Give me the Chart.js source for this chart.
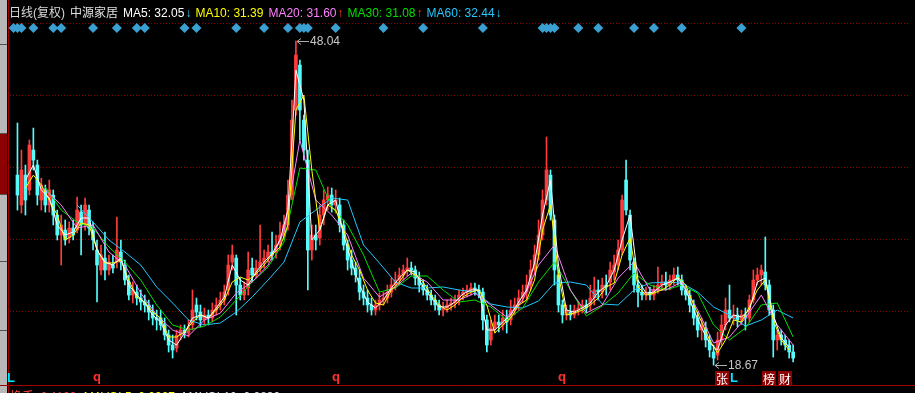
<!DOCTYPE html>
<html>
<head>
<meta charset="utf-8">
<script src="https://cdn.jsdelivr.net/npm/chart.js@4/dist/chart.umd.min.js"></script>
<style>
  html, body { margin: 0; padding: 0; background: #000; }
  #wrap { position: relative; width: 915px; height: 393px; overflow: hidden; background: #000;
          font-family: "Liberation Sans", "Noto Sans CJK SC", sans-serif; font-size: 12px; }
  #chart { position: absolute; left: 0; top: 0; }
  #head { position: absolute; left: 9px; top: 6px; white-space: nowrap; line-height: 14px; }
  #head span { margin-right: 5px; }
  #head .arr { margin-left: -4px; margin-right: 4px; }
  #foot { position: absolute; left: 10px; top: 390px; white-space: nowrap; line-height: 14px; }
  #foot span { margin-right: 4px; }
  .tab { position: absolute; left: 0; width: 7px; background: #b8b8b8; border-bottom: 1px solid #505050; }
</style>
</head>
<body>
<div id="wrap">
  <div class="tab" style="top:0;height:44px"></div>
  <div class="tab" style="top:45px;height:88px"></div>
  <div class="tab" style="top:134px;height:60px;background:#8c0000"></div>
  <div class="tab" style="top:195px;height:66px"></div>
  <div class="tab" style="top:262px;height:68px"></div>
  <div class="tab" style="top:331px;height:62px"></div>
  <canvas id="chart" width="915" height="393"></canvas>
  <div id="head"></div>
  <div id="foot"></div>
</div>
<script>
// daily candles (price), one per slot
const openP = [
  35.89, 33.18, 35.89, 34.54, 38.16, 36.80, 33.63, 34.54, 33.18, 34.08,
  32.27, 30.46, 30.91, 30.19, 31.09, 30.91, 32.54, 31.37, 32.72, 30.91,
  29.10, 27.29, 28.37, 27.29, 27.74, 28.01, 28.92, 27.74, 26.20, 25.02,
  25.29, 24.75, 24.39, 24.12, 23.48, 22.94, 22.94, 22.31, 21.40, 20.49,
  20.22, 21.40, 21.85, 21.58, 22.31, 24.12, 23.48, 22.76, 23.21, 22.94,
  23.66, 24.12, 24.57, 25.48, 28.01, 28.37, 25.93, 25.02, 25.66, 27.47,
  26.84, 27.47, 28.01, 28.37, 28.92, 28.92, 29.55, 30.46, 31.37, 34.08,
  41.78, 45.86, 40.88, 37.25, 29.10, 30.46, 30.19, 32.27, 33.63, 34.08,
  33.18, 33.18, 31.37, 29.55, 28.19, 27.47, 26.56, 25.29, 24.75, 24.12,
  23.66, 24.12, 24.57, 24.75, 25.29, 25.93, 26.38, 26.84, 27.29, 27.47,
  27.29, 26.56, 25.93, 25.48, 25.02, 24.57, 24.12, 23.66, 23.85, 24.12,
  24.30, 24.57, 25.02, 25.29, 25.48, 25.66, 25.48, 25.29, 22.76, 20.95,
  22.03, 22.58, 22.31, 22.94, 22.76, 23.66, 24.12, 24.75, 25.29, 25.93,
  27.29, 28.65, 30.46, 33.63, 35.89, 31.82, 26.84, 24.12, 23.21, 23.48,
  23.21, 23.66, 23.85, 24.12, 24.12, 24.75, 25.48, 25.29, 25.93, 26.20,
  27.11, 27.74, 29.10, 35.44, 32.27, 28.01, 25.93, 25.29, 25.02, 25.29,
  25.02, 25.48, 25.93, 26.20, 25.93, 26.38, 26.84, 26.38, 25.48, 25.02,
  24.12, 22.94, 21.85, 22.03, 20.95, 19.86, 19.59, 20.95, 22.31, 23.66,
  22.94, 23.21, 22.76, 23.21, 22.94, 24.57, 26.38, 26.84, 27.11, 25.93,
  23.66, 20.95, 21.40, 20.95, 20.49, 19.86
];
const closeP = [
  34.08, 36.35, 33.63, 38.61, 37.25, 34.08, 34.99, 33.18, 34.54, 32.27,
  30.46, 31.37, 30.01, 31.09, 30.46, 32.72, 31.37, 33.18, 31.09, 30.01,
  27.74, 28.65, 27.29, 28.01, 27.47, 29.10, 28.01, 26.38, 25.02, 25.48,
  24.75, 24.39, 24.12, 23.48, 22.94, 22.76, 22.31, 21.40, 20.49, 20.04,
  21.40, 21.85, 21.58, 22.03, 23.66, 23.48, 22.76, 23.21, 22.94, 23.66,
  24.12, 24.57, 25.29, 27.74, 28.65, 25.93, 25.02, 25.48, 27.29, 26.84,
  27.47, 28.01, 28.37, 28.92, 28.65, 29.55, 30.46, 31.37, 34.08, 40.88,
  46.77, 41.78, 38.16, 29.10, 30.46, 30.01, 32.27, 33.63, 34.08, 33.18,
  33.63, 31.37, 29.55, 28.19, 27.47, 26.84, 25.29, 24.75, 24.12, 23.66,
  24.12, 24.57, 24.75, 25.29, 25.93, 26.38, 26.84, 27.29, 27.47, 27.29,
  26.56, 25.93, 25.48, 25.02, 24.57, 24.12, 23.66, 23.85, 24.12, 24.30,
  24.57, 25.02, 25.29, 25.48, 25.66, 25.48, 25.29, 22.76, 20.49, 22.03,
  22.58, 22.31, 22.94, 22.58, 23.66, 24.12, 24.75, 25.29, 25.93, 27.29,
  28.65, 30.46, 33.63, 36.35, 32.27, 27.29, 24.12, 23.21, 23.66, 23.21,
  23.66, 23.85, 24.12, 23.85, 24.75, 25.48, 25.29, 25.93, 25.75, 27.29,
  27.74, 29.10, 33.63, 32.72, 28.19, 25.93, 25.29, 25.02, 25.29, 25.02,
  25.48, 25.93, 26.20, 25.93, 26.38, 26.84, 26.38, 25.48, 25.02, 24.12,
  22.94, 21.85, 22.31, 20.95, 20.04, 19.31, 20.95, 22.31, 23.66, 22.94,
  23.21, 22.76, 23.21, 22.94, 24.57, 26.38, 26.84, 27.29, 25.93, 23.66,
  20.95, 21.40, 20.95, 20.49, 19.86, 19.31
];
const highP = [
  40.61, 38.16, 36.80, 39.07, 40.15, 37.25, 35.62, 34.99, 35.44, 34.54,
  32.72, 32.27, 31.82, 31.64, 31.82, 33.90, 33.18, 33.81, 33.18, 31.64,
  30.01, 29.55, 30.73, 28.65, 28.65, 32.09, 30.01, 28.19, 26.84, 26.20,
  25.93, 25.48, 25.02, 24.57, 24.12, 23.66, 23.66, 22.94, 21.85, 21.40,
  21.85, 22.31, 22.31, 22.76, 25.48, 24.75, 24.12, 23.85, 23.66, 24.30,
  24.75, 25.29, 25.93, 28.65, 29.55, 28.65, 26.56, 26.20, 28.92, 28.37,
  28.19, 31.37, 29.10, 29.55, 30.73, 30.46, 31.64, 32.27, 35.44, 42.69,
  48.04, 46.31, 41.33, 38.16, 31.37, 31.37, 33.18, 34.54, 34.81, 34.72,
  34.54, 33.81, 31.82, 30.01, 29.10, 28.01, 27.29, 25.93, 25.48, 24.75,
  24.57, 25.20, 25.29, 25.93, 26.56, 27.11, 27.47, 27.74, 28.37, 28.01,
  27.65, 27.11, 26.38, 25.93, 25.48, 25.02, 24.57, 24.39, 24.57, 24.75,
  25.02, 25.48, 25.66, 25.93, 26.11, 26.11, 25.93, 25.66, 23.21, 22.76,
  23.21, 23.21, 23.66, 23.66, 24.57, 24.75, 25.48, 25.93, 26.84, 28.19,
  29.55, 31.82, 34.54, 39.34, 36.35, 32.27, 27.29, 24.57, 24.12, 24.12,
  24.12, 24.39, 24.57, 24.57, 25.93, 26.65, 26.38, 26.56, 26.84, 28.01,
  28.65, 30.01, 34.08, 37.25, 32.72, 28.37, 26.38, 25.93, 25.75, 25.75,
  25.93, 27.56, 26.84, 27.11, 26.84, 27.47, 27.56, 26.84, 25.93, 25.48,
  24.57, 23.48, 22.94, 22.58, 21.40, 20.49, 21.67, 23.21, 24.75, 25.93,
  24.12, 23.85, 23.66, 23.85, 25.02, 27.29, 27.47, 27.74, 30.28, 26.38,
  24.12, 21.85, 21.85, 21.40, 20.95, 20.49
];
const lowP = [
  32.72, 32.45, 32.27, 34.08, 36.35, 33.18, 32.72, 32.54, 32.54, 31.37,
  30.01, 27.74, 29.55, 29.73, 30.01, 30.64, 28.65, 30.91, 30.46, 29.10,
  24.39, 26.84, 26.38, 26.84, 27.02, 27.47, 27.29, 25.93, 24.57, 24.30,
  24.12, 23.66, 23.48, 22.76, 22.31, 21.85, 21.85, 20.95, 19.86, 19.31,
  19.86, 20.95, 21.13, 21.22, 21.85, 22.76, 22.13, 22.31, 22.31, 22.58,
  23.21, 23.66, 24.12, 25.02, 27.29, 23.21, 24.57, 24.57, 25.02, 26.20,
  26.56, 27.11, 27.47, 28.01, 28.19, 28.37, 29.10, 30.01, 30.91, 33.63,
  41.33, 39.07, 37.25, 25.48, 28.19, 29.10, 29.55, 31.37, 32.72, 32.54,
  32.45, 30.73, 29.10, 27.29, 26.84, 26.20, 24.57, 24.12, 23.48, 23.21,
  23.21, 23.66, 24.12, 24.30, 24.84, 25.48, 25.93, 26.38, 26.75, 26.84,
  25.93, 25.29, 25.02, 24.57, 24.12, 23.66, 23.21, 23.12, 23.48, 23.66,
  23.85, 24.12, 24.57, 24.84, 25.02, 25.02, 24.75, 21.85, 19.86, 20.49,
  21.58, 21.67, 21.85, 21.58, 22.31, 23.21, 23.66, 24.30, 24.57, 25.48,
  26.84, 28.19, 30.01, 33.18, 31.82, 25.93, 23.48, 22.49, 22.76, 22.76,
  22.94, 23.21, 23.39, 23.39, 23.66, 24.12, 24.57, 24.75, 25.02, 25.48,
  26.38, 27.29, 28.65, 32.27, 27.29, 25.29, 23.94, 24.57, 24.57, 24.57,
  24.57, 25.20, 25.48, 25.48, 25.48, 25.93, 25.93, 25.02, 24.57, 23.48,
  22.31, 21.22, 20.95, 20.31, 19.40, 18.67, 19.13, 20.49, 21.85, 22.58,
  22.31, 22.13, 22.31, 21.85, 22.58, 24.30, 25.93, 25.93, 25.48, 23.21,
  19.40, 20.04, 20.49, 20.04, 19.31, 18.95
];

// moving averages: ma5/ma10 every 2nd slot from 0, ma20/30/60 every 4th slot from 3
const ma5 = [
  null, 35.44, 36.80, 34.54, 33.81, 31.37, 30.46, 30.73, 32.00, 32.00,
  29.10, 28.01, 27.74, 28.37, 25.93, 25.02, 24.30, 23.21, 22.58, 20.95,
  20.49, 21.58, 22.94, 23.21, 22.94, 23.85, 24.84, 27.74, 26.38, 25.93,
  27.11, 28.01, 28.74, 30.01, 32.72, 45.41, 42.69, 30.01, 30.91, 33.18,
  33.63, 30.46, 28.01, 25.93, 24.39, 23.85, 24.57, 25.66, 26.56, 27.29,
  27.11, 25.75, 24.84, 23.94, 23.94, 24.39, 25.11, 25.48, 25.48, 21.85,
  21.85, 22.58, 23.21, 24.39, 25.48, 27.92, 32.27, 35.44, 27.74, 23.66,
  23.48, 23.85, 24.30, 25.29, 25.84, 27.29, 30.01, 32.27, 26.38, 25.20,
  25.29, 25.93, 26.20, 26.56, 25.48, 23.66, 22.03, 20.67, 20.04, 22.31,
  23.21, 23.03, 23.66, 26.20, 26.56, 23.21, 21.13, 20.31
];
const ma10 = [
  null, 34.72, 35.89, 34.99, 33.63, 32.27, 30.01, 30.46, 31.55, 31.37,
  29.10, 27.92, 27.92, 28.19, 26.38, 24.84, 24.39, 23.48, 22.94, 21.22,
  21.22, 21.67, 22.58, 23.21, 22.94, 23.66, 24.57, 26.20, 26.65, 26.38,
  26.93, 27.74, 28.65, 29.37, 31.37, 41.78, 43.14, 36.35, 30.91, 33.18,
  32.72, 30.91, 28.65, 27.29, 25.48, 24.30, 24.12, 25.48, 26.20, 27.29,
  26.84, 26.20, 25.02, 24.12, 23.66, 24.12, 24.84, 25.29, 25.48, 24.12,
  21.58, 22.31, 22.94, 24.12, 24.57, 26.38, 30.91, 33.18, 26.84, 23.21,
  23.39, 23.66, 24.12, 24.75, 25.75, 26.11, 28.65, 30.19, 25.75, 25.02,
  25.20, 25.48, 25.93, 26.65, 25.93, 24.12, 22.58, 20.95, 19.77, 20.95,
  22.76, 22.58, 23.94, 25.48, 26.38, 22.76, 20.95, 20.04
];
const ma20 = [
  null, 34.54, 33.18, 31.09, 31.37, 28.92, 27.74, 25.20, 23.21, 21.85,
  21.31, 22.76, 23.39, 25.20, 26.20, 27.74, 30.73, 39.07, 33.63, 32.27,
  30.46, 26.56, 24.84, 25.75, 27.02, 26.20, 24.57, 24.57, 25.20, 24.12,
  23.03, 24.57, 27.74, 29.55, 25.48, 23.39, 24.12, 26.56, 28.01, 25.48,
  25.48, 26.20, 23.66, 20.67, 21.22, 22.94, 25.02, 22.31, 20.49
];
const ma30 = [
  null, 34.81, 32.72, 31.64, 31.09, 29.37, 28.01, 26.38, 24.12, 22.31,
  21.85, 22.21, 23.03, 24.57, 26.20, 27.56, 29.82, 36.53, 36.35, 33.00,
  31.37, 28.65, 25.29, 25.66, 26.75, 26.75, 25.48, 24.39, 24.57, 23.94,
  22.76, 23.85, 26.20, 28.01, 25.48, 23.12, 24.03, 25.20, 27.02, 25.93,
  25.48, 25.93, 25.20, 22.31, 20.95, 22.03, 24.12, 24.30, 21.22
];
const ma60 = [
  null, null, null, 33.18, 31.64, 30.01, 28.92, 27.74, 25.75, 24.30,
  22.76, 22.31, 22.49, 23.48, 24.84, 26.38, 28.01, 31.64, 32.72, 33.81,
  33.63, 29.55, 27.92, 26.20, 25.66, 25.66, 25.75, 25.48, 25.29, 24.21,
  23.94, 23.85, 24.48, 26.11, 26.20, 25.93, 24.21, 24.12, 25.48, 26.11,
  26.20, 26.11, 25.29, 23.94, 23.21, 22.21, 22.76, 23.66, 22.94
];

const gridPrices = [49.67, 43.15, 36.63, 30.10, 23.57];
const signalIdx = [-1, 0, 1, 4, 9, 11, 19, 25, 30, 32, 42, 45, 55, 62, 68, 71, 72, 73, 80, 92,
  102, 117, 132, 133, 134, 135, 141, 146, 155, 160, 167, 182];
const markIdx = [-2, 20, 80, 137, 177, 180, 189, 193];
const markText = ['L', 'q', 'q', 'q', '张', 'L', '榜', '财'];

const maNames = ['MA5', 'MA10', 'MA20', 'MA30', 'MA60'];
const maLast = ['32.05', '31.39', '31.60', '31.08', '32.44'];
const maTrend = ['↓', '', '↑', '↑', '↓'];
const maColors = ['#ffffff', '#ffff00', '#ff80ff', '#00e000', '#22c8ff'];

const upColor = '#ff3c3c';
const downColor = '#54fcfc';

// header legend
const head = document.getElementById('head');
head.innerHTML = '<span style="color:#d8d8d8">日线(复权)</span><span style="color:#e0e0e0">中源家居</span>' +
  maNames.map((n, k) => {
    const arrColor = maTrend[k] === '↑' ? '#ff3030' : '#22c8ff';
    return '<span style="color:' + maColors[k] + '">' + n + ': ' + maLast[k] + '</span>' +
      (maTrend[k] ? '<span class="arr" style="color:' + arrColor + '">' + maTrend[k] + '</span>' : '');
  }).join('');
document.getElementById('foot').innerHTML =
  '<span style="color:#ff4040">换手: 0.1199;</span><span style="color:#ffff00">MAVOL5: 0.0927;</span><span style="color:#e0e0e0">MAVOL10: 0.0830;</span>';

const idx = closeP.map((_, i) => i);
const candleColor = idx.map(i => closeP[i] >= openP[i] ? upColor : downColor);

function maSeries(values, start, step) {
  return values.map((v, k) => ({ x: start + k * step, y: v })).filter(p => p.y !== null);
}
function maLine(label, values, start, step, color, order) {
  return {
    type: 'line', label, data: maSeries(values, start, step),
    borderColor: color, borderWidth: 1, pointRadius: 0, tension: 0, order
  };
}

const framePlugin = {
  id: 'frame',
  beforeDatasetsDraw(chart) {
    const { ctx, chartArea, scales } = chart;
    ctx.save();
    ctx.strokeStyle = '#8a0000';
    ctx.lineWidth = 1;
    ctx.setLineDash([1, 2]);
    gridPrices.forEach(p => {
      const yy = Math.round(scales.y.getPixelForValue(p)) + 0.5;
      ctx.beginPath();
      ctx.moveTo(chartArea.left, yy);
      ctx.lineTo(chartArea.right, yy);
      ctx.stroke();
    });
    ctx.setLineDash([]);
    ctx.strokeStyle = '#a00000';
    ctx.beginPath();
    ctx.moveTo(0, chartArea.bottom + 0.5);
    ctx.lineTo(chart.width, chartArea.bottom + 0.5);
    ctx.moveTo(8.5, 0);
    ctx.lineTo(8.5, chart.height);
    ctx.stroke();
    ctx.restore();
  },
  afterDatasetsDraw(chart) {
    const { ctx, chartArea, scales } = chart;
    const x = scales.x, y = scales.y;
    ctx.save();
    // extreme price tags
    const hiIdx = highP.indexOf(Math.max(...highP));
    const loIdx = lowP.indexOf(Math.min(...lowP));
    [[hiIdx, highP[hiIdx]], [loIdx, lowP[loIdx]]].forEach(([i, v]) => {
      const px = Math.round(x.getPixelForValue(i)) + 1;
      const py = Math.round(y.getPixelForValue(v)) + 0.5;
      ctx.strokeStyle = '#b0b0b0';
      ctx.lineWidth = 1;
      ctx.beginPath();
      ctx.moveTo(px, py);
      ctx.lineTo(px + 12, py);
      ctx.moveTo(px, py);
      ctx.lineTo(px + 4, py - 3);
      ctx.moveTo(px, py);
      ctx.lineTo(px + 4, py + 3);
      ctx.stroke();
      ctx.fillStyle = '#c8c8c8';
      ctx.font = '12px "Liberation Sans", sans-serif';
      ctx.textBaseline = 'middle';
      ctx.textAlign = 'left';
      ctx.fillText(v.toFixed(2), px + 13, py);
    });
    // event markers under the candles
    const my = chartArea.bottom - 7;
    markIdx.forEach((i, k) => {
      const px = Math.round(x.getPixelForValue(i));
      const t = markText[k];
      ctx.textAlign = 'center';
      ctx.textBaseline = 'middle';
      if (t === 'L') {
        ctx.fillStyle = '#00e8ff';
        ctx.font = 'bold 13px "Liberation Sans", sans-serif';
        ctx.fillText(t, px + 1, my);
      } else if (t === 'q') {
        ctx.fillStyle = '#ff3030';
        ctx.font = 'bold 13px "Liberation Sans", sans-serif';
        ctx.fillText(t, px, my - 1);
      } else {
        ctx.fillStyle = '#8c0000';
        ctx.fillRect(px - 7, my - 7, 14, 14);
        ctx.fillStyle = '#ffffff';
        ctx.font = '12px "Noto Sans CJK SC", sans-serif';
        ctx.fillText(t, px, my + 1);
      }
    });
    ctx.restore();
  }
};

new Chart(document.getElementById('chart'), {
  type: 'bar',
  data: {
    datasets: [
      {
        label: 'wick', data: idx.map(i => ({ x: i, y: [lowP[i], highP[i]] })),
        backgroundColor: candleColor, barThickness: 1, grouped: false, order: 10
      },
      {
        label: 'body', data: idx.map(i => ({ x: i, y: [Math.min(openP[i], closeP[i]), Math.max(openP[i], closeP[i])] })),
        backgroundColor: candleColor, barThickness: 3, minBarLength: 1, grouped: false, order: 9
      },
      maLine('MA60', ma60, 3, 4, maColors[4], 5),
      maLine('MA30', ma30, 3, 4, maColors[3], 4),
      maLine('MA20', ma20, 3, 4, maColors[2], 3),
      maLine('MA10', ma10, 0, 2, maColors[1], 2),
      maLine('MA5', ma5, 0, 2, maColors[0], 1),
      {
        type: 'line', label: 'signal', data: signalIdx.map(i => ({ x: i, y: 1 })),
        yAxisID: 'ys', showLine: false, pointStyle: 'rectRot', pointRadius: 5,
        pointBackgroundColor: '#3aa0d2', pointBorderWidth: 0, clip: false, order: 0
      }
    ]
  },
  options: {
    responsive: false,
    animation: false,
    devicePixelRatio: 1,
    layout: { padding: { left: 10, top: 23, right: 0, bottom: 8 } },
    plugins: { legend: { display: false }, tooltip: { enabled: false } },
    scales: {
      x: { type: 'linear', min: -1.875, max: 224.375, offset: false, display: false },
      y: { type: 'linear', min: 16.87, max: 49.67, display: false },
      ys: { type: 'linear', min: 0, max: 1.0142, display: false }
    }
  },
  plugins: [framePlugin]
});
</script>
</body>
</html>
